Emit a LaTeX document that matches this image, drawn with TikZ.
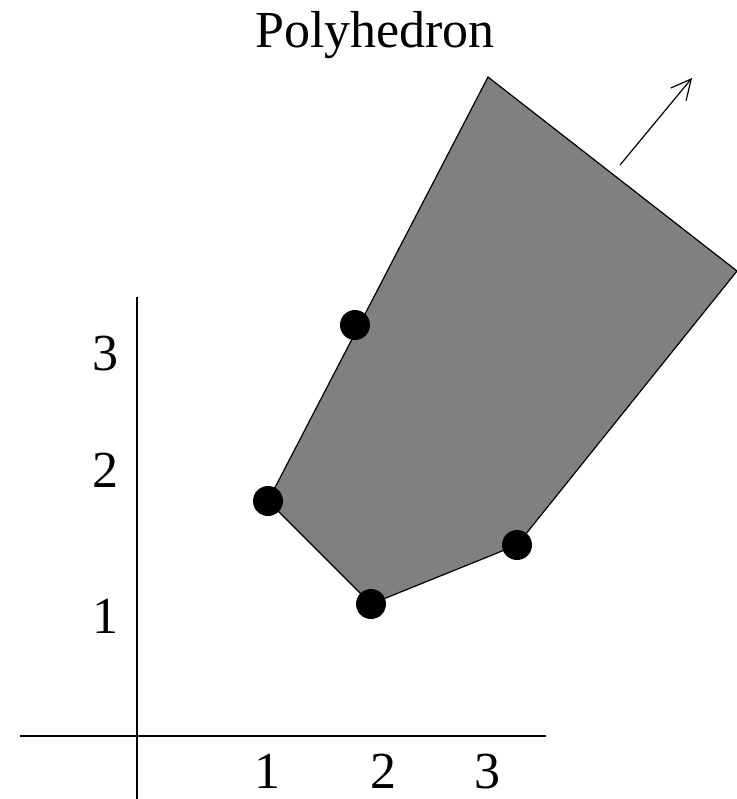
\documentclass[tikz,border=0pt]{standalone}
\usepackage{fontspec}
\setmainfont{Liberation Serif}
\usetikzlibrary{arrows.meta}
\begin{document}
\begin{tikzpicture}[x=0.5pt,y=-0.5pt,
  lbl/.style={anchor=base,inner sep=0pt,font=\fontsize{26}{30}\selectfont},
  dot/.style={circle,fill=black,inner sep=0pt,minimum size=15pt},
  axis/.style={line width=0.6pt},
  edge/.style={line width=0.6pt}]
\useasboundingbox (0,0) rectangle (737,799);
% axes
\coordinate (xl) at (20,736);
\coordinate (xr) at (546,736);
\coordinate (yb) at (137,799);
\coordinate (yt) at (137,297);
\draw[axis] (xl) -- (xr);
\draw[axis] (yb) -- (yt);
% polygon
\coordinate (v1) at (488,77);
\coordinate (v2) at (737,271);
\coordinate (v3) at (517,545);
\coordinate (v4) at (371,604);
\coordinate (v5) at (268,501);
\filldraw[edge,fill=gray] (v1) -- (v2) -- (v3) -- (v4) -- (v5) -- cycle;
% points
\node[dot] (p1) at (v5) {};
\node[dot] (p2) at (355,325) {};
\node[dot] (p3) at (v4) {};
\node[dot] (p4) at (v3) {};
% arrow
\coordinate (a0) at (620,165);
\coordinate (a1) at (692,78);
\draw[edge,-{Straight Barb[length=10pt,width=10pt]}] (a0) -- (a1);
% labels
\node[lbl] (title) at (375,47) {Polyhedron};
\node[lbl] (x1) at (267,788) {1};
\node[lbl] (x2) at (383,788) {2};
\node[lbl] (x3) at (487,788) {3};
\node[lbl] (y3) at (105,370) {3};
\node[lbl] (y2) at (105,487) {2};
\node[lbl] (y1) at (105,633) {1};
\end{tikzpicture}
\end{document}
